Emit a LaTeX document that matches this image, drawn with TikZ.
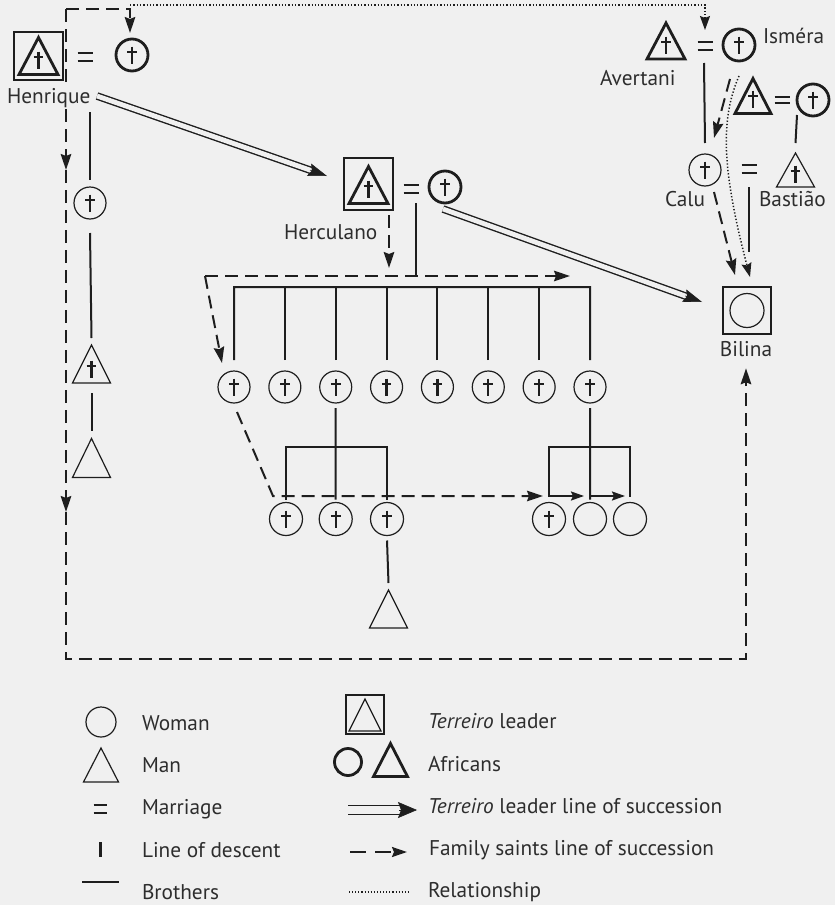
\documentclass[tikz,border=0pt]{standalone}
\usepackage{fontspec}
\setmainfont{PT Sans}
\usetikzlibrary{arrows.meta,calc}
\definecolor{bg}{RGB}{240,240,240}
\definecolor{ink}{RGB}{30,30,30}
\definecolor{txt}{RGB}{45,45,45}
\newcommand\crossin[2]{\draw[crossl] ($(#1.center)+(0,#2-8.5)$) -- ($(#1.center)+(0,#2+8.5)$) ($(#1.center)+(-4.8,#2-2.8)$) -- ($(#1.center)+(4.8,#2-2.8)$);}
\newcommand\tripath[2][]{\draw[ink,line width=1.2pt,#1] (#2.north) -- (#2.south east) -- (#2.south west) -- cycle;}
\newcommand\eqs[1]{\draw[ink,line width=2.2pt] (#1.north west) -- (#1.north east) (#1.south west) -- (#1.south east);}
\begin{document}
\begin{tikzpicture}[x=1pt,y=-1pt,
  every node/.style={inner sep=0pt, outer sep=0pt},
  fem/.style={circle, draw=ink, line width=1.2pt, minimum size=32pt},
  afr/.style={line width=2.8pt},
  leader/.style={rectangle, draw=ink, line width=1.2pt},
  eqn/.style={minimum width=15pt, minimum height=8pt},
  crossl/.style={draw=ink, line width=2.2pt},
  thick tri/.style={line width=2.8pt, line join=miter},
  desc/.style={draw=ink, line width=2pt},
  famline/.style={draw=ink, line width=2pt, dash pattern=on 13pt off 7pt},
  fam/.style={famline, -{Stealth[length=16pt,width=10.5pt,inset=2pt]}},
  solidarr/.style={draw=ink, line width=2pt, -{Stealth[length=13pt,width=9pt,inset=2pt]}},
  rel/.style={draw=ink, line width=1.5pt, dash pattern=on 1.3pt off 2pt},
  dbl/.style={draw=ink, line width=1.4pt, double=bg, double distance=4.8pt},
  lbl/.style={font=\fontsize{21.3}{24}\selectfont, text=txt, anchor=base west},
]
\fill[bg] (0,0) rectangle (835,905);
\useasboundingbox (0,0) rectangle (835,905);

% ---------- Henrique ----------
\node[leader, minimum width=49pt, minimum height=48pt] (hbox) at (38.5,56) {};
\node[minimum width=39pt, minimum height=37pt] (htri) at (38.5,56) {};
\tripath[thick tri]{htri}
\crossin{htri}{4}
\node[eqn] (heq) at (85,57) {};
\eqs{heq}
\node[fem, afr] (hw) at (132,55) {};
\crossin{hw}{0}

\coordinate (hd) at (90,112);
\node[fem] (c1) at (90,203) {};
\crossin{c1}{0}
\node[minimum width=38pt, minimum height=38pt] (t1) at (91.5,364) {};
\tripath{t1}
\crossin{t1}{5}
\node[minimum width=38pt, minimum height=39pt] (t2) at (91.5,458) {};
\tripath{t2}
\draw[desc] (hd) -- ([yshift=7pt]c1.north);
\draw[desc] ([yshift=-14pt]c1.south) -- ([yshift=7pt]t1.north);
\draw[desc] ([yshift=-10pt]t1.south) -- ([yshift=8pt]t2.north);

% ---------- Herculano ----------
\node[leader, minimum width=49pt, minimum height=52pt] (cbox) at (368.5,184) {};
\node[minimum width=39pt, minimum height=37pt] (ctri) at (368.5,185) {};
\tripath[thick tri]{ctri}
\crossin{ctri}{4}
\node[eqn] (ceq) at (411,189) {};
\eqs{ceq}
\node[fem, afr] (cw) at (445,187) {};
\crossin{cw}{0}
\node[lbl] (cname) at (284,239) {Herculano};
\coordinate (cd1) at (416,203);
\coordinate (cd2) at (416,276);
\draw[desc] (cd1) -- (cd2);

% siblings
\foreach \i in {1,...,8}{
  \node[fem] (s\i) at ({234+(\i-1)*50.857},387) {};
  \crossin{s\i}{0}
}
\draw[desc] ([yshift=11pt]s1.north) |- (590,287) -- ([yshift=11pt]s8.north);
\foreach \i in {2,...,7}{\draw[desc] ([yshift=11pt]s\i.north) -- ++(0,-73);}

% grandchildren
\node[fem, minimum size=33pt] (g1) at (286,519) {};
\node[fem, minimum size=33pt] (g2) at (335.7,519) {};
\node[fem, minimum size=33pt] (g3) at (387,519) {};
\node[fem, minimum size=33pt] (g4) at (549,519) {};
\node[fem, minimum size=33pt] (g5) at (590,519) {};
\node[fem, minimum size=33pt] (g6) at (630,519) {};
\foreach \n in {g1,g2,g3,g4}{\crossin{\n}{0}}
\coordinate (bry) at (0,447);
\draw[desc] ([yshift=-5pt]s3.south) -- ([yshift=3pt]g2.north);
\draw[desc] ([yshift=3pt]g1.north) -- (g1.north |- bry) -- (g3.north |- bry) -- ([yshift=3pt]g3.north);
\draw[desc] ([yshift=-5pt]s8.south) -- ([yshift=3pt]g5.north);
\draw[desc] ([yshift=6pt]g4.north) -- (g4.north |- bry) -- (g6.north |- bry) -- ([yshift=6pt]g6.north);

\node[minimum width=38pt, minimum height=38pt] (ct) at (388.5,609) {};
\tripath{ct}
\draw[desc] ([yshift=-5pt]g3.south) -- ([yshift=7pt]ct.north);

% family saints (Herculano)
\draw[fam] (389,215) -- (389,268);
\coordinate (fk) at (205,276);
\draw[fam] (fk) -- (570,276);
\draw[fam] (fk) -- ([xshift=-12pt,yshift=8pt]s1.north);
\coordinate (fk2) at (273,496);
\draw[fam] ([xshift=3pt,yshift=-9pt]s1.south) -- (fk2) -- ([xshift=-6pt,yshift=6.5pt]g4.north);
\draw[solidarr] ([yshift=6.5pt]g4.north) -- ([xshift=-6pt,yshift=6.5pt]g5.north);
\draw[solidarr] ([yshift=6.5pt]g5.north) -- ([xshift=-5pt,yshift=6.5pt]g6.north);

% ---------- right top ----------
\node[minimum width=38pt, minimum height=36pt] (av) at (666,41) {};
\tripath[thick tri]{av}
\crossin{av}{4}
\node[eqn] (aeq) at (705,46) {};
\eqs{aeq}
\node[fem, afr] (is) at (739,45) {};
\crossin{is}{0}
\node[lbl] (avname) at (600,85) {Avertani};
\node[lbl] (isname) at (763,43) {Isméra};

\node[minimum width=36pt, minimum height=35pt] (pf) at (753,96) {};
\tripath[thick tri]{pf}
\crossin{pf}{3}
\node[eqn, minimum height=6.5pt] (peq) at (782,100) {};
\eqs{peq}
\node[fem, afr] (pm) at (813,100) {};
\crossin{pm}{0}

\node[fem] (calu) at (705,170) {};
\crossin{calu}{0}
\node[eqn] (keq) at (749,169) {};
\eqs{keq}
\node[minimum width=38pt, minimum height=34pt] (bas) at (795.5,170) {};
\tripath{bas}
\crossin{bas}{4}
\node[lbl] (caluname) at (665,206) {Calu};
\node[lbl] (basname) at (759,206) {Bastião};

\draw[desc] (704,63) -- ([yshift=11pt]calu.north);
\draw[desc] (797,115) -- ([yshift=10pt]bas.north);
\coordinate (kd) at (749,187);
\draw[desc] (kd) -- (749,252);

% ---------- Bilina ----------
\node[leader, minimum width=48pt, minimum height=47pt] (bb) at (747,310.5) {};
\node[fem, minimum size=34pt] (bc) at (747,310.5) {};
\node[font=\fontsize{21.3}{24}\selectfont, text=txt, anchor=base] (bname) at (746,356) {Bilina};

\draw[fam] ([xshift=-9pt,yshift=-18pt]is.south) -- ([xshift=9pt,yshift=16pt]calu.north);
\draw[fam] ([xshift=9pt,yshift=-6pt]calu.south) -- ([xshift=-12pt,yshift=12pt]bb.north);
\draw[rel, -{Stealth[length=14pt,width=10pt,inset=2pt]}] ([yshift=-15pt]is.south) .. controls (720,120) and (722,170) .. ([xshift=3pt,yshift=10pt]bb.north);

% ---------- long lines ----------
\coordinate (d0) at (66,9);
\coordinate (d1) at (66,170);
\coordinate (d2) at (66,512);
\coordinate (d3) at (66,659);
\coordinate (d4) at (746,659);
\draw[fam] (d0) -| ([xshift=-2pt,yshift=6pt]hw.north);
\draw[fam] (d0) -- (d1);
\draw[fam] (d1) -- (d2);
\draw[fam] (d2) -- (d3) -- (d4) -- ([yshift=-12pt]bname.south);
\draw[rel, -{Stealth[length=14pt,width=10pt,inset=2pt]}] (130,5) -- (705,5) -- ([yshift=12pt]aeq.north);
\node[lbl, fill=bg, inner sep=1.5pt] (hname) at (5.5,103) {Henrique};

% terreiro leader succession
\coordinate (da1) at (97,96);
\coordinate (da2) at (327,176);
\draw[dbl, shorten >=15pt] (da1) -- (da2);
\draw[ink, line width=0.6pt, -{Stealth[length=19pt,width=13pt,inset=3pt]}] ($(da2)!18pt!(da1)$) -- (da2);
\coordinate (db1) at (443,209);
\coordinate (db2) at (702,302);
\draw[dbl, shorten >=15pt] (db1) -- (db2);
\draw[ink, line width=0.6pt, -{Stealth[length=19pt,width=13pt,inset=3pt]}] ($(db2)!18pt!(db1)$) -- (db2);

% ---------- legend ----------
\node[fem, minimum size=30pt] (lw) at (101,722) {};
\node[lbl] (lwt) at (142,730) {Woman};
\node[minimum width=35pt, minimum height=34pt] (lm) at (101,765) {};
\tripath{lm}
\node[lbl] (lmt) at (142,772) {Man};
\node[eqn, minimum width=13pt] (leq) at (100,809) {};
\eqs{leq}
\node[lbl] (leqt) at (142,814) {Marriage};
\coordinate (ld1) at (100,842);
\coordinate (ld2) at (100,857);
\draw[ink, line width=3pt] (ld1) -- (ld2);
\node[lbl] (ldt) at (142,857) {Line of descent};
\coordinate (lb1) at (82,882);
\coordinate (lb2) at (119,882);
\draw[ink, line width=1.6pt] (lb1) -- (lb2);
\node[lbl] (lbt) at (142,899) {Brothers};

\node[leader, minimum width=38pt, minimum height=39pt] (lbox) at (365,714.5) {};
\node[minimum width=32pt, minimum height=32pt] (ltri) at (365,715) {};
\tripath{ltri}
\node[lbl] (lboxt) at (428,728) {\textit{Terreiro} leader};
\node[fem, afr, minimum size=27pt] (lac) at (348,762) {};
\node[minimum width=34pt, minimum height=33pt] (lat) at (390.5,760) {};
\tripath[thick tri]{lat}
\node[lbl] (lat2) at (428,771) {Africans};
\coordinate (la1) at (348,810);
\coordinate (la2) at (417,810);
\draw[ink, line width=1.3pt, double=bg, double distance=7.5pt, shorten >=15pt] (la1) -- (la2);
\draw[ink, line width=0.6pt, -{Stealth[length=19pt,width=16pt,inset=3pt]}] ($(la2)!18pt!(la1)$) -- (la2);
\node[lbl] (lat3) at (428,813) {\textit{Terreiro} leader line of succession};
\coordinate (lf1) at (350,852);
\coordinate (lf2) at (407,852);
\draw[ink, line width=2pt, dash pattern=on 16pt off 9pt, -{Stealth[length=15pt,width=10pt,inset=2pt]}] (lf1) -- (lf2);
\node[lbl] (lft) at (429,855) {Family saints line of succession};
\coordinate (lr1) at (349,892);
\coordinate (lr2) at (408,892);
\draw[ink, line width=1.2pt, dash pattern=on 1.1pt off 2pt] (lr1) -- (lr2);
\node[lbl] (lrt) at (428,897) {Relationship};
\end{tikzpicture}
\end{document}
